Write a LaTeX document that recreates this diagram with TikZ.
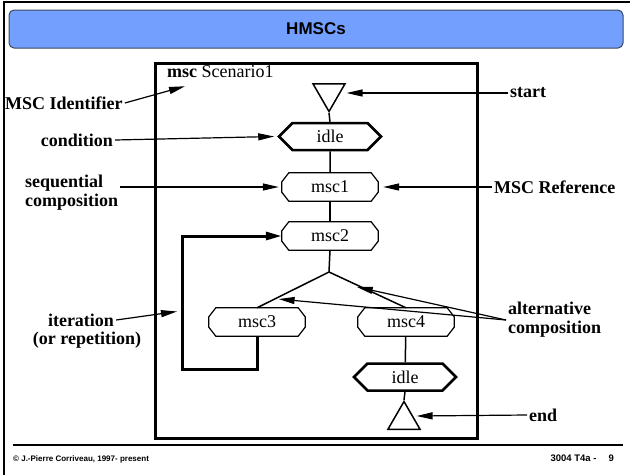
\documentclass[tikz,border=0pt]{standalone}
\usepackage{fontspec}
\setmainfont{Liberation Serif}
\setsansfont{Liberation Sans}
\usetikzlibrary{
    arrows.meta,
    positioning,
    shapes.geometric,
    shapes.symbols
}
\definecolor{titleblue}{RGB}{115,160,255}
\definecolor{titleedge}{RGB}{60,70,90}
\tikzset{
    % Box styles
    ref box/.style={
        rectangle,
        minimum width=96pt,
        minimum height=28pt,
        inner sep=0pt,
        font=\fontsize{18}{20}\selectfont,
        append after command={\pgfextra{
            \draw[line width=1.2pt]
                ([xshift=7pt]\tikzlastnode.north west) -- ([xshift=-7pt]\tikzlastnode.north east)
                -- ([yshift=-9pt]\tikzlastnode.north east) -- ([yshift=9pt]\tikzlastnode.south east)
                -- ([xshift=-7pt]\tikzlastnode.south east) -- ([xshift=7pt]\tikzlastnode.south west)
                -- ([yshift=9pt]\tikzlastnode.south west) -- ([yshift=-9pt]\tikzlastnode.north west)
                -- cycle;
        }}
    },
    cond box/.style={
        draw,
        line width=2.5pt,
        signal,
        signal to=west and east,
        signal pointer angle=90,
        minimum width=102pt,
        minimum height=27pt,
        inner sep=0pt,
        font=\fontsize{18}{20}\selectfont
    },
    tri node/.style={
        draw,
        line width=1.5pt,
        regular polygon,
        regular polygon sides=3,
        minimum size=37pt,
        inner sep=0pt
    },
    note/.style={
        inner sep=2pt,
        font=\bfseries\fontsize{18}{19}\selectfont
    },
    % Arrow styles
    flow line/.style={
        line width=1.5pt
    },
    note arrow/.style={
        -{Triangle[length=16pt,width=7pt]},
        line width=1.2pt
    },
    loop arrow/.style={
        -{Triangle[length=16pt,width=8pt]},
        line width=3pt
    }
}

\begin{document}
\begin{tikzpicture}[x=1pt, y=-1pt]
    \useasboundingbox (0,0) rectangle (630,475);

    % Slide frame and title
    \draw[line width=2pt] (4,475) -- (4,2) -- (630,2);
    \node[draw=titleedge, fill=titleblue, rounded corners=5pt, line width=1pt,
        minimum width=614pt, minimum height=38pt,
        font=\sffamily\bfseries\fontsize{17}{20}\selectfont] (titlebar) at (316,29) {HMSCs};

    % HMSC frame
    \draw[line width=3pt] (155,63) rectangle (477,438);
    \node[anchor=west, inner sep=0pt, font=\fontsize{18}{20}\selectfont] (mscname) at (167,72) {\textbf{msc} Scenario1};

    % Start, conditions and references
    \node[tri node, shape border rotate=180] (start) at (329,93) {};
    \node[cond box] (idle1) at (330,136.5) {idle};
    \foreach \n/\x/\y in {1/330/187, 2/330/236, 3/257/322, 4/406/322} {
        \node[ref box] (msc\n) at (\x,\y) {msc\n};
    }
    \coordinate (branch) at (329,272);
    \node[cond box] (idle2) at (405,377) {idle};
    \node[tri node] (endtri) at (404,420) {};

    % Flow
    \draw[flow line] (start.corner 1) -- (idle1.north);
    \draw[flow line] (idle1) -- (msc1);
    \draw[flow line] (msc1) -- (msc2);
    \draw[flow line] (msc2.south) -- (branch);
    \draw[flow line] (branch) -- (msc3.north);
    \draw[flow line] (branch) -- (msc4.north);
    \draw[flow line] (msc4) -- (idle2);
    \draw[flow line] (idle2.south) -- (endtri.corner 1);

    % Iteration loop
    \coordinate (loopbl) at (182,369);
    \draw[loop arrow] (msc3.south) |- (loopbl) |- (msc2.west);

    % Annotations, left
    \node[note, anchor=west] (lblid) at (3,103) {MSC Identifier};
    \node[note, anchor=east] (lblcond) at (115,140) {condition};
    \node[note, anchor=west, align=left] (lblseq) at (23,193) {sequential\\composition};
    \node[note] (lbliter) at (81,320) {iteration};
    \node[note] (lblrep) at (87,340) {(or repetition)};

    % Annotations, right
    \node[note, anchor=west] (lblstart) at (508,93) {start};
    \node[note, anchor=west] (lblref) at (492,187) {MSC Reference};
    \node[note, anchor=west, align=left] (lblalt) at (506,320) {alternative\\composition};
    \node[note, anchor=west] (lblend) at (527,415) {end};

    \draw[note arrow] (lblid.east) -- ([xshift=18pt,yshift=-8pt]mscname.south west);
    \draw[note arrow] (lblcond.east) -- ([xshift=-3pt]idle1.west);
    \draw[note arrow] (lblseq.east |- msc1) -- ([xshift=-3pt]msc1.west);
    \draw[note arrow] (lbliter.east) -- ([xshift=-5pt]loopbl |- lbliter.north);
    \draw[note arrow] (lblstart.west) -- ([xshift=6pt]start.east);
    \draw[note arrow] (lblref.west) -- ([xshift=5pt]msc1.east);
    \path (branch) -- (msc4.north) coordinate[pos=0.36] (altr);
    \path (branch) -- (msc3.north) coordinate[pos=0.70] (altl);
    \draw[note arrow] (lblalt.west) -- ([yshift=-2pt]altr);
    \draw[note arrow] (lblalt.west) -- ([yshift=-2pt]altl);
    \draw[note arrow] (lblend.west) -- ([xshift=1pt,yshift=4pt]endtri.east);

    % Footer
    \draw[line width=1.2pt] (13,445) -- (623,445);
    \node[anchor=west, inner sep=0pt, font=\sffamily\bfseries\fontsize{8}{10}\selectfont] (copyright) at (13,459) {\textcopyright{} J.-Pierre Corriveau, 1997- present};
    \node[anchor=east, inner sep=0pt, font=\sffamily\bfseries\fontsize{9.5}{11}\selectfont] (slideno) at (614,458) {3004 T4a -\hspace{12pt}9};
\end{tikzpicture}
\end{document}
